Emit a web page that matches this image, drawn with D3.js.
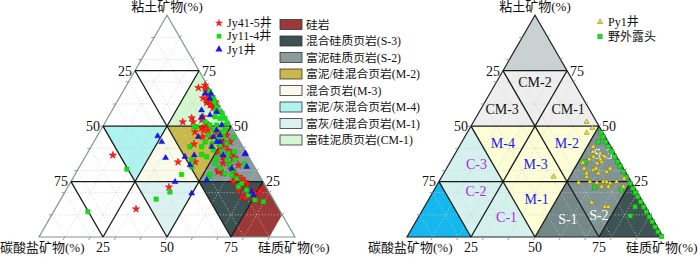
<!DOCTYPE html>
<html lang="zh">
<head>
<meta charset="UTF-8">
<title>页岩岩相三角图</title>
<script src="https://cdn.jsdelivr.net/npm/d3@7"></script>
<style>
    body { margin: 0; background: #fff; }
    svg text { font-family: "Liberation Serif", "Noto Sans CJK SC", serif; fill: #111; }
</style>
</head>
<body>
<svg id="chart" width="700" height="257"></svg>
<script>
// every point / vertex is [clay %, carbonate %]; siliceous % is the remainder
const jy41_5 = [
    [67.3,4.1],[68.5,0.9],[66.2,1.4],[64,2],[62.7,4.6],[62.2,2.1],[60.5,4.3],[59.9,2.6],[58.1,3],[58.7,1.2],
    [53.7,13.5],[51.9,17.9],[54.2,8.8],[49.2,11.8],[47.4,15.4],[50.5,9.3],[48.2,9.9],[46.8,7.2],[45.2,10.6],[45.9,3.7],
    [42.9,3.9],[41.4,6.6],[40.7,8.9],[39.2,6.6],[37.8,5.8],[36.2,10],[35.6,5.6],[33.8,28.8],[33.8,22.1],[33.3,11.5],
    [32.1,9.3],[29.4,15.4],[28.8,13.7],[29.4,9.5],[27.2,9],[22.7,10],[18.2,10.4],[20.4,6.2],[23.9,6.9],[25.7,10.6],
    [36.9,52.7],[22.5,38],[12.6,55.8],[41.9,18.5],[45.2,13.4],
    [67.1,1.6],[65.5,1.1],[63.2,0.9],[61.7,3.6],[59.5,3.4],[60.9,0.6],[51.9,13.8],[52.7,10.1],[50.5,8.6],[48.2,11.7],
    [42.9,7.2],[38.4,10.7],[34.7,10],[35.5,6.4],[32.4,5.9],[30.2,14.8],[27.9,9.5],[26.4,7.6],[24.9,11.6],[24.9,7.1],
    [21.2,11.6],[20.4,8.7],[18.2,11.7],[17.4,7.6],[19.7,5.8],[20.9,3.2],[17.6,10.7]
];
const jy11_4 = [
    [65.8,0.5],[64,0.8],[62.2,0.6],[60.9,1],[58.7,1.2],[57,2.5],[56.4,1],[55.7,0.6],[54.2,4.1],[53.5,2.5],
    [53.5,0.6],[51.9,9.2],[50.5,8],[50.5,5.4],[50.5,2.8],[51.2,0.8],[49.7,13.6],[48.2,7.8],[47.4,5.6],[48.2,3.2],
    [45.9,10.9],[44.5,8.3],[45.2,5.4],[42.9,13.7],[42.2,11.4],[41.4,8.6],[42.2,5.5],[40.7,20.7],[40.7,16.1],[39.2,12.3],
    [38.4,9.4],[37.7,7.2],[37.3,17.8],[34.7,23],[36.2,16.4],[35.5,12.9],[34.7,9.3],[33.2,14.6],[30.9,13.8],[32.4,9.2],
    [30.2,9],[28.2,30.2],[28.7,13],[27.9,10.8],[26.4,9.6],[24.2,8.7],[22.7,10.8],[21.2,8.3],[19.7,7.1],[16.7,7.3],
    [18.9,8.8],[15.9,4.4],[30.6,50.4],[11.4,75.2],[17.1,45.7],[20.3,38.7],[31.7,24.5],[27.2,20],[49.7,14.6],[28.4,19],
    [45,1.5],[38.5,4.5],[35,6],[33,3.3]
];
const jy1 = [
    [64.7,2.8],[62.5,2],[64.7,0.5],[57.2,7.9],[55,5.7],[56.4,2.4],[45.2,15.2],[45.2,9.3],[42.9,9.1],[45.9,6.3],
    [40.7,12.2],[36.9,9.6],[36.2,24.9],[32.4,24.8],[30.9,9.3],[37.7,0.5],[20.4,6.7],[18.9,6.8],[24.9,34.4],[19.7,30.5],
    [48.2,6.5],[50.5,3.4],[42.9,7.9],[45.5,30.9],[42.9,30.6],[35.7,32.7],[54.1,9.4],[36.9,20.9],[25.7,21.6],[31.7,3],[37.4,0.8]
];
const py1 = [
    [33.5,14.6],[35,11.3],[36.2,9.1],[33.2,9.1],[33.9,7],[36.2,4.6],[30.2,12.1],[28.7,10.9],[29.4,7.3],[30.9,5.2],
    [27.2,16.2],[24.9,16.1],[24.5,13.6],[24.9,10.9],[24.2,8.6],[24.9,5.7],[24.5,20.7],[27.2,29.1],[22.7,12.6],[22.7,10],
    [26.4,2],[22.7,4.1],[15.5,20.1],[13.6,15.9],[13.6,14.6],[28.7,15.5],[30.9,15.4],[38.4,8.2],[37.7,5.7],[30.9,10.7],
    [51.9,3.9],[49.2,3],[47,6.3],[40.7,6.9],[35,6.9],[24.9,9.6]
];
const outcrop = [
    [47,0.8],[45.2,0.8],[42.9,1],[40.7,1],[38.4,0.8],[36.2,0.8],[33.9,0.8],[32,0.8],[29.5,0.8],[27,0.8],
    [24.2,0.8],[21.9,0.8],[20,0.8],[18.2,0.8],[15.9,0.8],[13.6,0.8],[11.4,0.8],[9.1,0.8],[6.9,0.8],[4.6,0.8],
    [2.4,0.8],[0.3,0.5],[42.9,3.8],[33.9,13.5],[22.4,15.5],[21.2,5.6],[13.6,4.1],[9.5,8]
];

const quarterTicks = [25, 50, 75];
const axisNames = ["粘土矿物(%)", "碳酸盐矿物(%)", "硅质矿物(%)"];

// left diagram lithofacies fields
const leftZones = [
    {name: "硅岩",                fill: "#9b3838", pts: [[25,0],[10,0],[0,10],[0,25]]},
    {name: "混合硅质页岩(S-3)",    fill: "#3c5252", pts: [[25,25],[25,0],[0,25]]},
    {name: "富泥硅质页岩(S-2)",    fill: "#8a9c9c", pts: [[50,0],[25,25],[25,0]]},
    {name: "富泥/硅混合页岩(M-2)", fill: "#c9b94b", pts: [[50,25],[50,0],[25,25]]},
    {name: "混合页岩(M-3)",        fill: "#fafaea", pts: [[50,25],[25,50],[25,25]]},
    {name: "富泥/灰混合页岩(M-4)", fill: "#aef3ee", pts: [[50,50],[50,25],[25,50]]},
    {name: "富灰/硅混合页岩(M-1)", fill: "#dcf2f0", pts: [[25,50],[25,25],[0,50]]},
    {name: "富硅泥质页岩(CM-1)",   fill: "#d5f7d0", pts: [[75,0],[50,25],[50,0]]}
];

// right diagram fields
const rightZones = [
    {fill: "#c9d1d1", pts: [[100,0],[75,25],[75,0]]},
    {fill: "#eeeeee", pts: [[75,25],[50,50],[50,25]]},
    {fill: "#eeeeee", pts: [[75,25],[75,0],[50,25]]},
    {fill: "#eeeeee", pts: [[75,0],[50,25],[50,0]]},
    {fill: "#d4f1ee", pts: [[50,50],[25,75],[25,50]]},
    {fill: "#fdfdd6", pts: [[50,50],[50,25],[25,50]]},
    {fill: "#fdfdd6", pts: [[50,25],[25,50],[25,25]]},
    {fill: "#fdfdd6", pts: [[50,25],[50,0],[25,25]]},
    {fill: "#809494", pts: [[50,0],[25,25],[25,0]]},
    {fill: "#14b8ee", pts: [[25,75],[0,100],[0,75]]},
    {fill: "#d4f1ee", pts: [[25,75],[25,50],[0,75]]},
    {fill: "#d4f1ee", pts: [[25,50],[0,75],[0,50]]},
    {fill: "#fdfdd6", pts: [[25,50],[25,25],[0,50]]},
    {fill: "#748888", pts: [[25,25],[0,50],[0,25]]},
    {fill: "#809494", pts: [[25,25],[25,0],[0,25]]},
    {fill: "#3e5353", pts: [[25,0],[0,25],[0,0]]}
];

const rightLabels = [
    {text: "CM-2", at: [70,15],    color: "#111"},
    {text: "CM-3", at: [57.7,34],  color: "#111"},
    {text: "CM-1", at: [57.7,8.2], color: "#111"},
    {text: "M-4",  at: [42.3,41.4], color: "#1a1af0"},
    {text: "M-3",  at: [32.9,33.3], color: "#1a1af0"},
    {text: "M-2",  at: [42.3,16.4], color: "#1a1af0"},
    {text: "M-1",  at: [16.9,40.9], color: "#1a1af0"},
    {text: "C-3",  at: [32.9,56.4], color: "#b02ee0"},
    {text: "C-2",  at: [20.7,62.7], color: "#b02ee0"},
    {text: "C-1",  at: [9,56.6],    color: "#b02ee0"},
    {text: "S-3",  at: [37.4,4.7],  color: "#fff"},
    {text: "S-1",  at: [8.1,33.1],  color: "#fff"},
    {text: "S-2",  at: [9.9,20.1],  color: "#fff"}
];

const svg = d3.select("#chart");
const side = 256, baseY = 237;

function ternary(x0) {
    const xs = d3.scaleLinear().domain([0, 100]).range([x0, x0 + side]);
    const ys = d3.scaleLinear().domain([0, 100]).range([baseY, baseY - side * Math.sqrt(3) / 2]);
    // d = [clay, carbonate]
    return d => [xs(100 - d[0] - d[1] + d[0] / 2), ys(d[0])];
}

const line = d3.line();

function drawFrame(g, proj, zones, edgeColor) {
    g.selectAll("path.zone").data(zones).join("path")
        .attr("class", "zone")
        .attr("d", z => line(z.pts.map(proj)) + "Z")
        .attr("fill", z => z.fill);

    // fine dotted grid every 10 %
    const fine = d3.range(10, 100, 10);
    const gridLines = [];
    fine.forEach(v => {
        gridLines.push([[v, 100 - v], [v, 0]]);
        gridLines.push([[100 - v, v], [0, v]]);
        gridLines.push([[100 - v, 0], [0, 100 - v]]);
    });
    g.selectAll("path.fine").data(gridLines).join("path")
        .attr("class", "fine")
        .attr("d", l => line(l.map(proj)))
        .attr("stroke", "#cdcdcd").attr("stroke-width", 0.8)
        .attr("stroke-dasharray", "1,2").attr("fill", "none");

    // outer edges
    const corners = [[100, 0], [0, 100], [0, 0]];
    g.append("path")
        .attr("d", line(corners.map(proj)) + "Z")
        .attr("fill", "none").attr("stroke", edgeColor).attr("stroke-width", 1.2);

    // small ticks on edges
    const ticks = [];
    fine.forEach(v => {
        ticks.push({p: proj([100 - v, v]), dx: -3, dy: 0});
        ticks.push({p: proj([v, 0]), dx: 2, dy: -2});
        ticks.push({p: proj([0, 100 - v]), dx: -1.5, dy: 3});
    });
    g.selectAll("line.tick").data(ticks).join("line")
        .attr("class", "tick")
        .attr("x1", t => t.p[0]).attr("y1", t => t.p[1])
        .attr("x2", t => t.p[0] + t.dx).attr("y2", t => t.p[1] + t.dy)
        .attr("stroke", "#8aa0a0").attr("stroke-width", 1);

    // quarter lines
    const major = [];
    quarterTicks.forEach(v => {
        major.push([[v, 100 - v], [v, 0]]);
        major.push([[100 - v, v], [0, v]]);
        major.push([[100 - v, 0], [0, 100 - v]]);
    });
    g.selectAll("path.major").data(major).join("path")
        .attr("class", "major")
        .attr("d", l => line(l.map(proj)))
        .attr("stroke", "#1a1a1a").attr("stroke-width", 1.3).attr("fill", "none");
}

function drawAxisText(g, proj, x0) {
    const top = proj([100, 0]);
    g.append("text").attr("x", top[0]).attr("y", 11)
        .attr("text-anchor", "middle").attr("font-size", 13).text(axisNames[0]);
    g.append("text").attr("x", x0 - 39).attr("y", 252)
        .attr("font-size", 13).text(axisNames[1]);
    g.append("text").attr("x", x0 + 219).attr("y", 252)
        .attr("font-size", 13).text(axisNames[2]);

    quarterTicks.forEach(v => {
        const l = proj([100 - v, v]);
        g.append("text").attr("x", l[0] - 3).attr("y", l[1]).attr("dy", "0.35em")
            .attr("text-anchor", "end").attr("font-size", 14).text(v);
        const r = proj([v, 0]);
        g.append("text").attr("x", r[0] + 3).attr("y", r[1]).attr("dy", "0.35em")
            .attr("font-size", 14).text(v);
        const b = proj([0, 100 - v]);
        g.append("text").attr("x", b[0]).attr("y", 252)
            .attr("text-anchor", "middle").attr("font-size", 14).text(v);
    });
}

function drawPoints(g, proj, data, type, size, fill, stroke) {
    g.selectAll(null).data(data).join("path")
        .attr("transform", d => `translate(${proj(d)})`)
        .attr("d", d3.symbol().type(type).size(size))
        .attr("fill", fill).attr("stroke", stroke).attr("stroke-width", 0.5);
}

// left diagram
const leftProj = ternary(39);
const gL = svg.append("g");
drawFrame(gL, leftProj, leftZones, "#7f9696");
drawAxisText(gL, leftProj, 39);
drawPoints(gL, leftProj, jy41_5, d3.symbolStar, 17, "#ff1e1e", "#e00000");
drawPoints(gL, leftProj, jy11_4, d3.symbolSquare, 19, "#12e012", "#0cc00c");
drawPoints(gL, leftProj, jy1, d3.symbolTriangle, 15, "#1717f0", "#1010d0");

// left legends
const leg1 = svg.append("g").attr("font-size", 12);
[["Jy41-5井", d3.symbolStar, "#ff1e1e"], ["Jy11-4井", d3.symbolSquare, "#12e012"], ["Jy1井", d3.symbolTriangle, "#1717f0"]]
    .forEach((d, i) => {
        const y = 23 + i * 13.2;
        leg1.append("path").attr("transform", `translate(219,${y})`)
            .attr("d", d3.symbol().type(d[1]).size(22)).attr("fill", d[2]);
        leg1.append("text").attr("x", 227).attr("y", y).attr("dy", "0.35em").text(d[0]);
    });

const leg2 = svg.append("g").attr("font-size", 11.8);
leftZones.forEach((z, i) => {
    const y = 24.5 + i * 16.5;
    leg2.append("rect").attr("x", 280).attr("y", y - 5).attr("width", 22).attr("height", 10)
        .attr("fill", z.fill).attr("stroke", "#333").attr("stroke-width", 0.8);
    leg2.append("text").attr("x", 306).attr("y", y).attr("dy", "0.35em").text(z.name);
});

// right diagram
const rightProj = ternary(407);
const gR = svg.append("g");
drawFrame(gR, rightProj, rightZones, "#222");
drawAxisText(gR, rightProj, 407);
gR.selectAll("text.zl").data(rightLabels).join("text")
    .attr("class", "zl")
    .attr("x", d => rightProj(d.at)[0]).attr("y", d => rightProj(d.at)[1])
    .attr("dy", "0.35em").attr("text-anchor", "middle")
    .attr("font-size", 14).style("fill", d => d.color).text(d => d.text);
drawPoints(gR, rightProj, outcrop, d3.symbolSquare, 20, "#22dd22", "#1a8a1a");
drawPoints(gR, rightProj, py1, d3.symbolTriangle, 11, "#ffe21a", "#6a6a30");

const leg3 = svg.append("g").attr("font-size", 12);
leg3.append("path").attr("transform", "translate(600,22)")
    .attr("d", d3.symbol().type(d3.symbolTriangle).size(12))
    .attr("fill", "#ffe21a").attr("stroke", "#6a6a30").attr("stroke-width", 0.5);
leg3.append("text").attr("x", 608).attr("y", 22).attr("dy", "0.35em").text("Py1井");
leg3.append("path").attr("transform", "translate(600,36.5)")
    .attr("d", d3.symbol().type(d3.symbolSquare).size(20))
    .attr("fill", "#22dd22").attr("stroke", "#1a8a1a").attr("stroke-width", 0.5);
leg3.append("text").attr("x", 608).attr("y", 36.5).attr("dy", "0.35em").text("野外露头");
</script>
</body>
</html>
